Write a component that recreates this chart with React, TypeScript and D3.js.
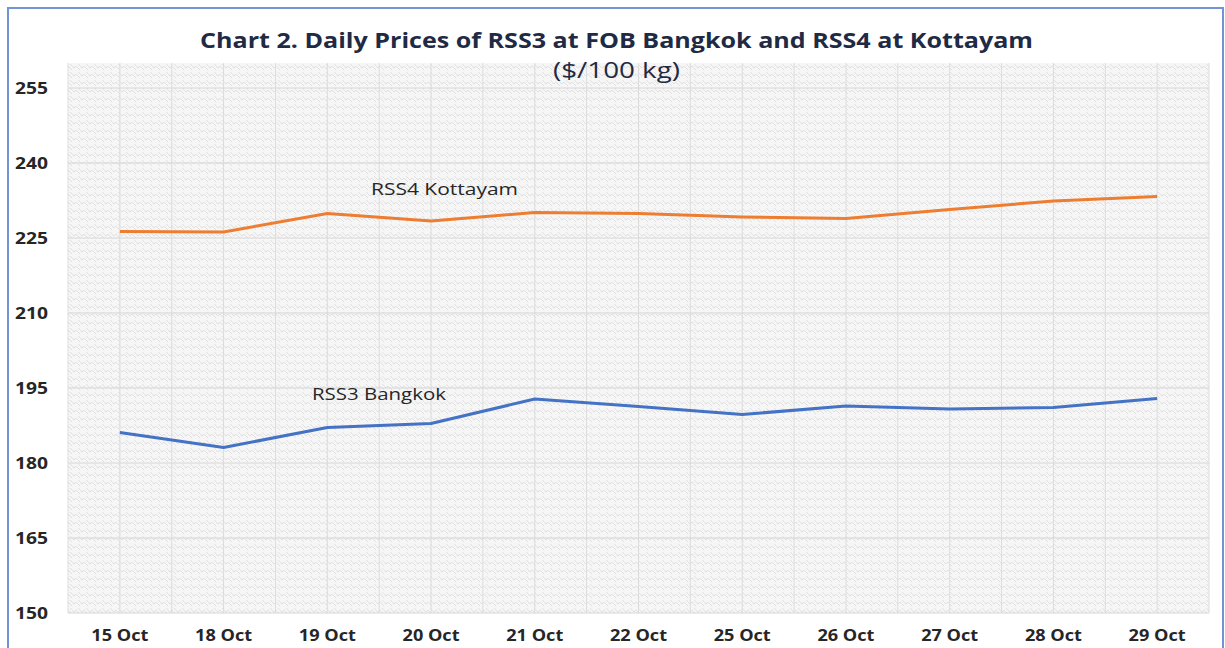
import React, { useEffect, useRef } from 'react';
import * as d3 from 'd3';

const categories = ['15 Oct', '18 Oct', '19 Oct', '20 Oct', '21 Oct', '22 Oct', '25 Oct', '26 Oct', '27 Oct', '28 Oct', '29 Oct'];
const rss4Kottayam = [226.3, 226.2, 229.9, 228.4, 230.1, 229.9, 229.2, 228.9, 230.7, 232.4, 233.3];
const rss3Bangkok = [186.1, 183.1, 187.1, 187.9, 192.8, 191.3, 189.7, 191.4, 190.8, 191.1, 192.9];
const yTicks = [150, 165, 180, 195, 210, 225, 240, 255];

const W = 1225;
const H = 648;
const FONT = '"Open Sans", Lato, sans-serif';

const App: React.FC = () => {
  const svgRef = useRef<SVGSVGElement | null>(null);

  useEffect(() => {
    if (!svgRef.current) return;
    const svg = d3.select(svgRef.current);
    svg.selectAll('*').remove();

    const left = 68, right = 1209, top = 63, bottom = 613;

    const x = d3.scaleBand<string>().domain(categories).range([left, right]).padding(0);
    const y = d3.scaleLinear().domain([150, 260]).range([bottom, top]);
    const bw = x.bandwidth();
    const cx = (c: string) => (x(c) as number) + bw / 2;

    // wavy hatch pattern for plot background
    const defs = svg.append('defs');
    const pat = defs
      .append('pattern')
      .attr('id', 'wave')
      .attr('patternUnits', 'userSpaceOnUse')
      .attr('width', 8)
      .attr('height', 8);
    pat.append('rect').attr('width', 8).attr('height', 8).attr('fill', '#f6f6f6');
    pat
      .append('path')
      .attr('d', 'M0,2 L2,4 L4,2 L8,6 M-2,0 L0,2 M6,0 L8,2')
      .attr('stroke', '#e0e0e0')
      .attr('stroke-width', 1)
      .attr('fill', 'none');

    // outer border
    svg
      .append('rect')
      .attr('x', 8)
      .attr('y', 8)
      .attr('width', 1215)
      .attr('height', 660)
      .attr('fill', '#fff')
      .attr('stroke', '#7094d4')
      .attr('stroke-width', 2);

    svg
      .append('rect')
      .attr('x', left)
      .attr('y', top)
      .attr('width', right - left)
      .attr('height', bottom - top)
      .attr('fill', 'url(#wave)');

    // gridlines
    const vLines = d3.range(0, categories.length * 2 + 1).map((i) => left + (i * bw) / 2);
    svg
      .append('g')
      .selectAll('line')
      .data(vLines)
      .enter()
      .append('line')
      .attr('x1', (d) => d)
      .attr('x2', (d) => d)
      .attr('y1', top)
      .attr('y2', bottom)
      .attr('stroke', '#dcdcdc')
      .attr('stroke-width', 1);

    svg
      .append('g')
      .selectAll('line')
      .data(yTicks)
      .enter()
      .append('line')
      .attr('x1', left)
      .attr('x2', right)
      .attr('y1', (d) => y(d))
      .attr('y2', (d) => y(d))
      .attr('stroke', '#d6d6d6')
      .attr('stroke-width', 1);

    // y tick labels
    svg
      .append('g')
      .selectAll('text')
      .data(yTicks)
      .enter()
      .append('text')
      .attr('x', 15)
      .attr('y', (d) => y(d))
      .attr('dy', '0.35em')
      .attr('textLength', 33)
      .attr('lengthAdjust', 'spacingAndGlyphs')
      .attr('font-family', FONT)
      .attr('font-weight', 'bold')
      .attr('font-size', 16)
      .attr('fill', '#262626')
      .text((d) => d);

    // x tick labels
    svg
      .append('g')
      .selectAll('text')
      .data(categories)
      .enter()
      .append('text')
      .attr('x', (d) => cx(d) - 28.5)
      .attr('y', 641)
      .attr('textLength', 57)
      .attr('lengthAdjust', 'spacingAndGlyphs')
      .attr('font-family', FONT)
      .attr('font-weight', 'bold')
      .attr('font-size', 16)
      .attr('fill', '#262626')
      .text((d) => d);

    const line = d3
      .line<number>()
      .x((_d, i) => cx(categories[i]))
      .y((d) => y(d));

    svg
      .append('path')
      .datum(rss4Kottayam)
      .attr('d', line)
      .attr('fill', 'none')
      .attr('stroke', '#ED7D31')
      .attr('stroke-width', 3)
      .attr('stroke-linejoin', 'round');

    svg
      .append('path')
      .datum(rss3Bangkok)
      .attr('d', line)
      .attr('fill', 'none')
      .attr('stroke', '#4472C4')
      .attr('stroke-width', 3)
      .attr('stroke-linejoin', 'round');

    // series labels
    svg
      .append('text')
      .attr('x', 371)
      .attr('y', 189)
      .attr('dy', '0.35em')
      .attr('textLength', 147)
      .attr('lengthAdjust', 'spacingAndGlyphs')
      .attr('font-family', FONT)
      .attr('font-size', 17)
      .attr('fill', '#262626')
      .text('RSS4 Kottayam');

    svg
      .append('text')
      .attr('x', 312)
      .attr('y', 394)
      .attr('dy', '0.35em')
      .attr('textLength', 134)
      .attr('lengthAdjust', 'spacingAndGlyphs')
      .attr('font-family', FONT)
      .attr('font-size', 17)
      .attr('fill', '#262626')
      .text('RSS3 Bangkok');

    // title
    svg
      .append('text')
      .attr('x', 200)
      .attr('y', 48)
      .attr('textLength', 833)
      .attr('lengthAdjust', 'spacingAndGlyphs')
      .attr('font-family', FONT)
      .attr('font-weight', 'bold')
      .attr('font-size', 21)
      .attr('fill', '#1f2a44')
      .text('Chart 2. Daily Prices of RSS3 at FOB Bangkok and RSS4 at Kottayam');

    svg
      .append('text')
      .attr('x', 553)
      .attr('y', 78)
      .attr('textLength', 127)
      .attr('lengthAdjust', 'spacingAndGlyphs')
      .attr('font-family', FONT)
      .attr('font-size', 21)
      .attr('fill', '#1f2a44')
      .text('($/100 kg)');
  }, []);

  return (
    <svg
      ref={svgRef}
      width={W}
      height={H}
      viewBox={`0 0 ${W} ${H}`}
      style={{ position: 'absolute', left: 0, top: 0 }}
    ></svg>
  );
};

export default App;
